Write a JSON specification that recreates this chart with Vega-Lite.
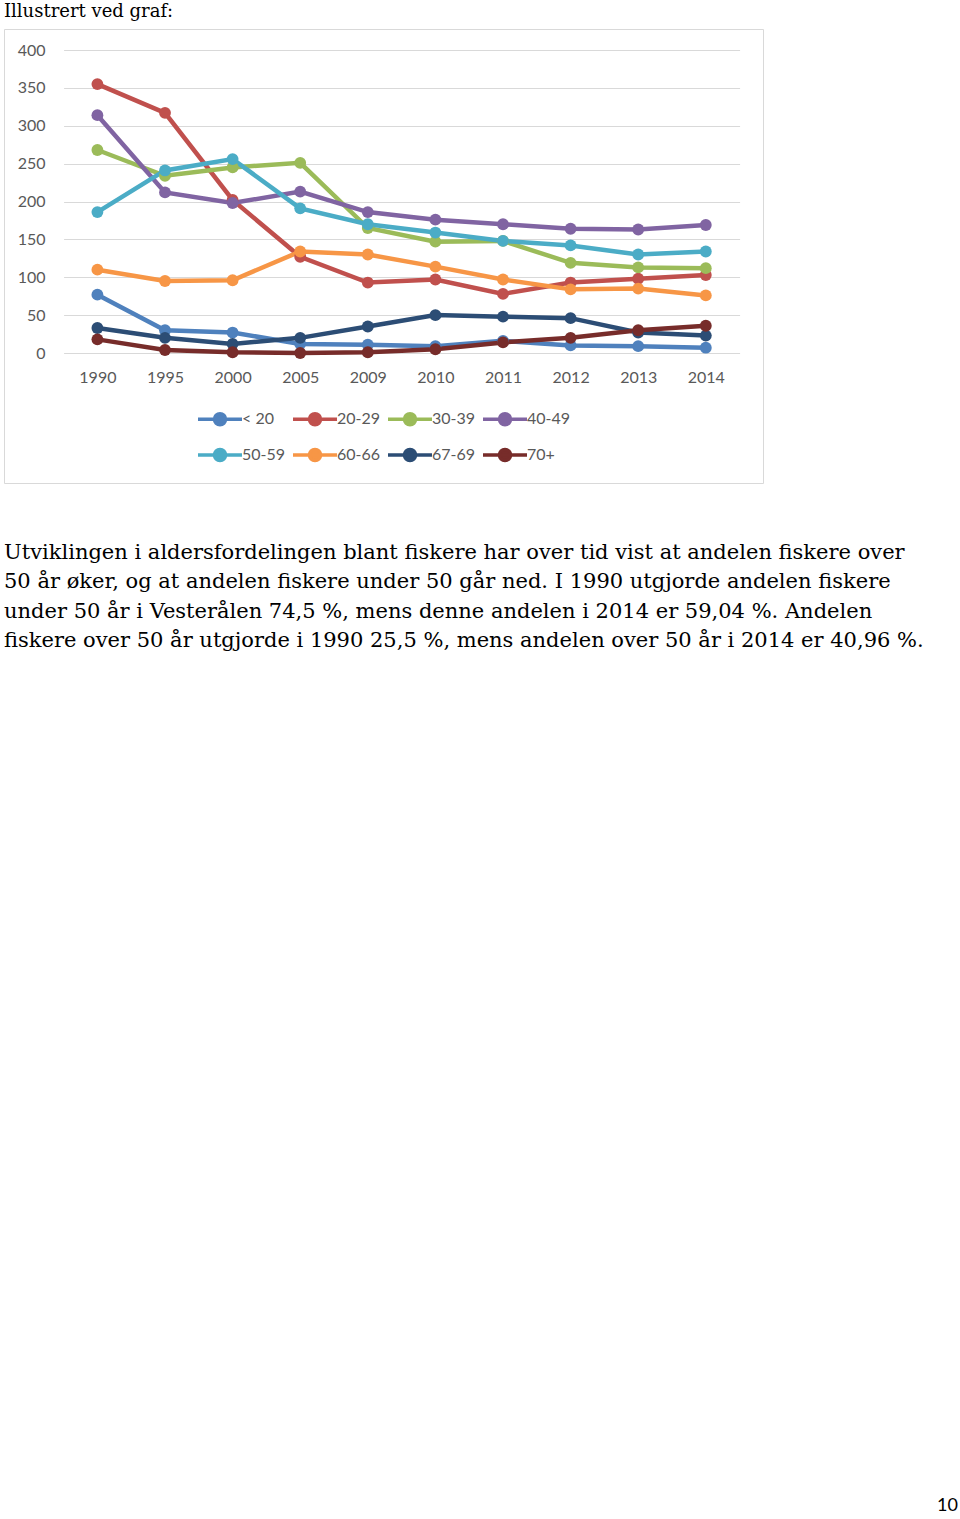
{
  "$schema": "https://vega.github.io/schema/vega-lite/v6.json",
  "autosize": {"type": "pad"},
  "padding": {"left": 3, "top": 2, "right": 0, "bottom": 0},
  "background": "white",
  "spacing": 57,
  "title": {"text": "10", "orient": "bottom", "anchor": "end", "font": "Lato", "fontSize": 18, "fontWeight": "normal", "color": "black", "offset": 10},
  "config": {
    "font": "Lato",
    "view": {"stroke": null},
    "title": {"fontWeight": "normal"}
  },
  "vconcat": [
    {
      "width": 759,
      "height": 454,
      "view": {"stroke": "#d9d9d9", "strokeWidth": 1},
      "title": {"text": "Illustrert ved graf:", "anchor": "start", "frame": "group", "font": "DejaVu Serif", "fontSize": 18, "fontWeight": "normal", "color": "black", "offset": 8, "baseline": "top"},
      "data": {"values": [
        {"year": "1990", "group": "< 20", "count": 77},
        {"year": "1995", "group": "< 20", "count": 30},
        {"year": "2000", "group": "< 20", "count": 27},
        {"year": "2005", "group": "< 20", "count": 12},
        {"year": "2009", "group": "< 20", "count": 11},
        {"year": "2010", "group": "< 20", "count": 9},
        {"year": "2011", "group": "< 20", "count": 16},
        {"year": "2012", "group": "< 20", "count": 10},
        {"year": "2013", "group": "< 20", "count": 9},
        {"year": "2014", "group": "< 20", "count": 7},
        {"year": "1990", "group": "20-29", "count": 355},
        {"year": "1995", "group": "20-29", "count": 317},
        {"year": "2000", "group": "20-29", "count": 202},
        {"year": "2005", "group": "20-29", "count": 127},
        {"year": "2009", "group": "20-29", "count": 93},
        {"year": "2010", "group": "20-29", "count": 97},
        {"year": "2011", "group": "20-29", "count": 78},
        {"year": "2012", "group": "20-29", "count": 93},
        {"year": "2013", "group": "20-29", "count": 98},
        {"year": "2014", "group": "20-29", "count": 103},
        {"year": "1990", "group": "30-39", "count": 268},
        {"year": "1995", "group": "30-39", "count": 234},
        {"year": "2000", "group": "30-39", "count": 245},
        {"year": "2005", "group": "30-39", "count": 251},
        {"year": "2009", "group": "30-39", "count": 165},
        {"year": "2010", "group": "30-39", "count": 147},
        {"year": "2011", "group": "30-39", "count": 148},
        {"year": "2012", "group": "30-39", "count": 119},
        {"year": "2013", "group": "30-39", "count": 113},
        {"year": "2014", "group": "30-39", "count": 112},
        {"year": "1990", "group": "40-49", "count": 314},
        {"year": "1995", "group": "40-49", "count": 212},
        {"year": "2000", "group": "40-49", "count": 198},
        {"year": "2005", "group": "40-49", "count": 213},
        {"year": "2009", "group": "40-49", "count": 186},
        {"year": "2010", "group": "40-49", "count": 176},
        {"year": "2011", "group": "40-49", "count": 170},
        {"year": "2012", "group": "40-49", "count": 164},
        {"year": "2013", "group": "40-49", "count": 163},
        {"year": "2014", "group": "40-49", "count": 169},
        {"year": "1990", "group": "50-59", "count": 186},
        {"year": "1995", "group": "50-59", "count": 241},
        {"year": "2000", "group": "50-59", "count": 256},
        {"year": "2005", "group": "50-59", "count": 191},
        {"year": "2009", "group": "50-59", "count": 170},
        {"year": "2010", "group": "50-59", "count": 159},
        {"year": "2011", "group": "50-59", "count": 148},
        {"year": "2012", "group": "50-59", "count": 142},
        {"year": "2013", "group": "50-59", "count": 130},
        {"year": "2014", "group": "50-59", "count": 134},
        {"year": "1990", "group": "60-66", "count": 110},
        {"year": "1995", "group": "60-66", "count": 95},
        {"year": "2000", "group": "60-66", "count": 96},
        {"year": "2005", "group": "60-66", "count": 134},
        {"year": "2009", "group": "60-66", "count": 130},
        {"year": "2010", "group": "60-66", "count": 114},
        {"year": "2011", "group": "60-66", "count": 97},
        {"year": "2012", "group": "60-66", "count": 84},
        {"year": "2013", "group": "60-66", "count": 85},
        {"year": "2014", "group": "60-66", "count": 76},
        {"year": "1990", "group": "67-69", "count": 33},
        {"year": "1995", "group": "67-69", "count": 20},
        {"year": "2000", "group": "67-69", "count": 12},
        {"year": "2005", "group": "67-69", "count": 20},
        {"year": "2009", "group": "67-69", "count": 35},
        {"year": "2010", "group": "67-69", "count": 50},
        {"year": "2011", "group": "67-69", "count": 48},
        {"year": "2012", "group": "67-69", "count": 46},
        {"year": "2013", "group": "67-69", "count": 27},
        {"year": "2014", "group": "67-69", "count": 23},
        {"year": "1990", "group": "70+", "count": 18},
        {"year": "1995", "group": "70+", "count": 4},
        {"year": "2000", "group": "70+", "count": 1},
        {"year": "2005", "group": "70+", "count": 0},
        {"year": "2009", "group": "70+", "count": 1},
        {"year": "2010", "group": "70+", "count": 5},
        {"year": "2011", "group": "70+", "count": 14},
        {"year": "2012", "group": "70+", "count": 20},
        {"year": "2013", "group": "70+", "count": 30},
        {"year": "2014", "group": "70+", "count": 36}
      ]},
      "encoding": {
        "x": {
          "field": "year", "type": "ordinal",
          "scale": {"type": "point", "range": [59.6, 735.6], "padding": 0.5},
          "axis": {"title": null, "labelAngle": 0, "domain": false, "ticks": false, "tickSize": 0, "grid": false, "labelPadding": -106, "labelBaseline": "middle", "labelColor": "#595959", "labelFontSize": 16, "labelFont": "Lato", "minExtent": 0}
        },
        "y": {
          "field": "count", "type": "quantitative",
          "scale": {"domain": [0, 400], "range": [324, 21], "nice": false},
          "axis": {"title": null, "values": [0, 50, 100, 150, 200, 250, 300, 350, 400], "grid": true, "gridColor": "#d9d9d9", "gridWidth": 1, "domain": false, "ticks": false, "tickSize": 0, "labelPadding": -41, "labelColor": "#595959", "labelFontSize": 16, "labelFont": "Lato", "minExtent": 0}
        },
        "color": {
          "field": "group", "type": "nominal",
          "scale": {
            "domain": ["< 20", "20-29", "30-39", "40-49", "50-59", "60-66", "67-69", "70+"],
            "range": ["#4F81BD", "#C0504D", "#9BBB59", "#8064A2", "#4BACC6", "#F79646", "#2C4D75", "#772C2A"]
          },
          "legend": {
            "title": null, "orient": "none", "legendX": 203, "legendY": 377,
            "direction": "horizontal", "columns": 4, "padding": 0,
            "symbolType": "M-2,0L2,0M-0.5,0A0.5,0.5,0,1,0,0.5,0A0.5,0.5,0,1,0,-0.5,0Z",
            "symbolSize": 484, "symbolStrokeWidth": 3.5,
            "labelFontSize": 16, "labelFont": "Lato", "labelColor": "#595959", "labelOffset": 9,
            "columnPadding": 0, "rowPadding": 10,
            "encode": {"symbols": {"update": {"fill": {"scale": "color", "field": "value"}, "stroke": {"scale": "color", "field": "value"}, "opacity": {"value": 1}}}}
          }
        }
      },
      "layer": [
        {"mark": {"type": "line", "strokeWidth": 4.5}},
        {"mark": {"type": "point", "filled": true, "size": 140, "opacity": 1}}
      ]
    },
    {
      "width": 954,
      "height": 831,
      "title": {
        "text": [
          "Utviklingen i aldersfordelingen blant fiskere har over tid vist at andelen fiskere over",
          "50 år øker, og at andelen fiskere under 50 går ned. I 1990 utgjorde andelen fiskere",
          "under 50 år i Vesterålen 74,5 %, mens denne andelen i 2014 er 59,04 %. Andelen",
          "fiskere over 50 år utgjorde i 1990 25,5 %, mens andelen over 50 år i 2014 er 40,96 %."
        ],
        "anchor": "start", "frame": "group", "font": "DejaVu Serif", "fontSize": 21, "fontWeight": "normal", "color": "black", "lineHeight": 29.5, "offset": 5, "baseline": "top"
      },
      "data": {"values": []},
      "mark": {"type": "text"},
      "encoding": {}
    }
  ]
}
